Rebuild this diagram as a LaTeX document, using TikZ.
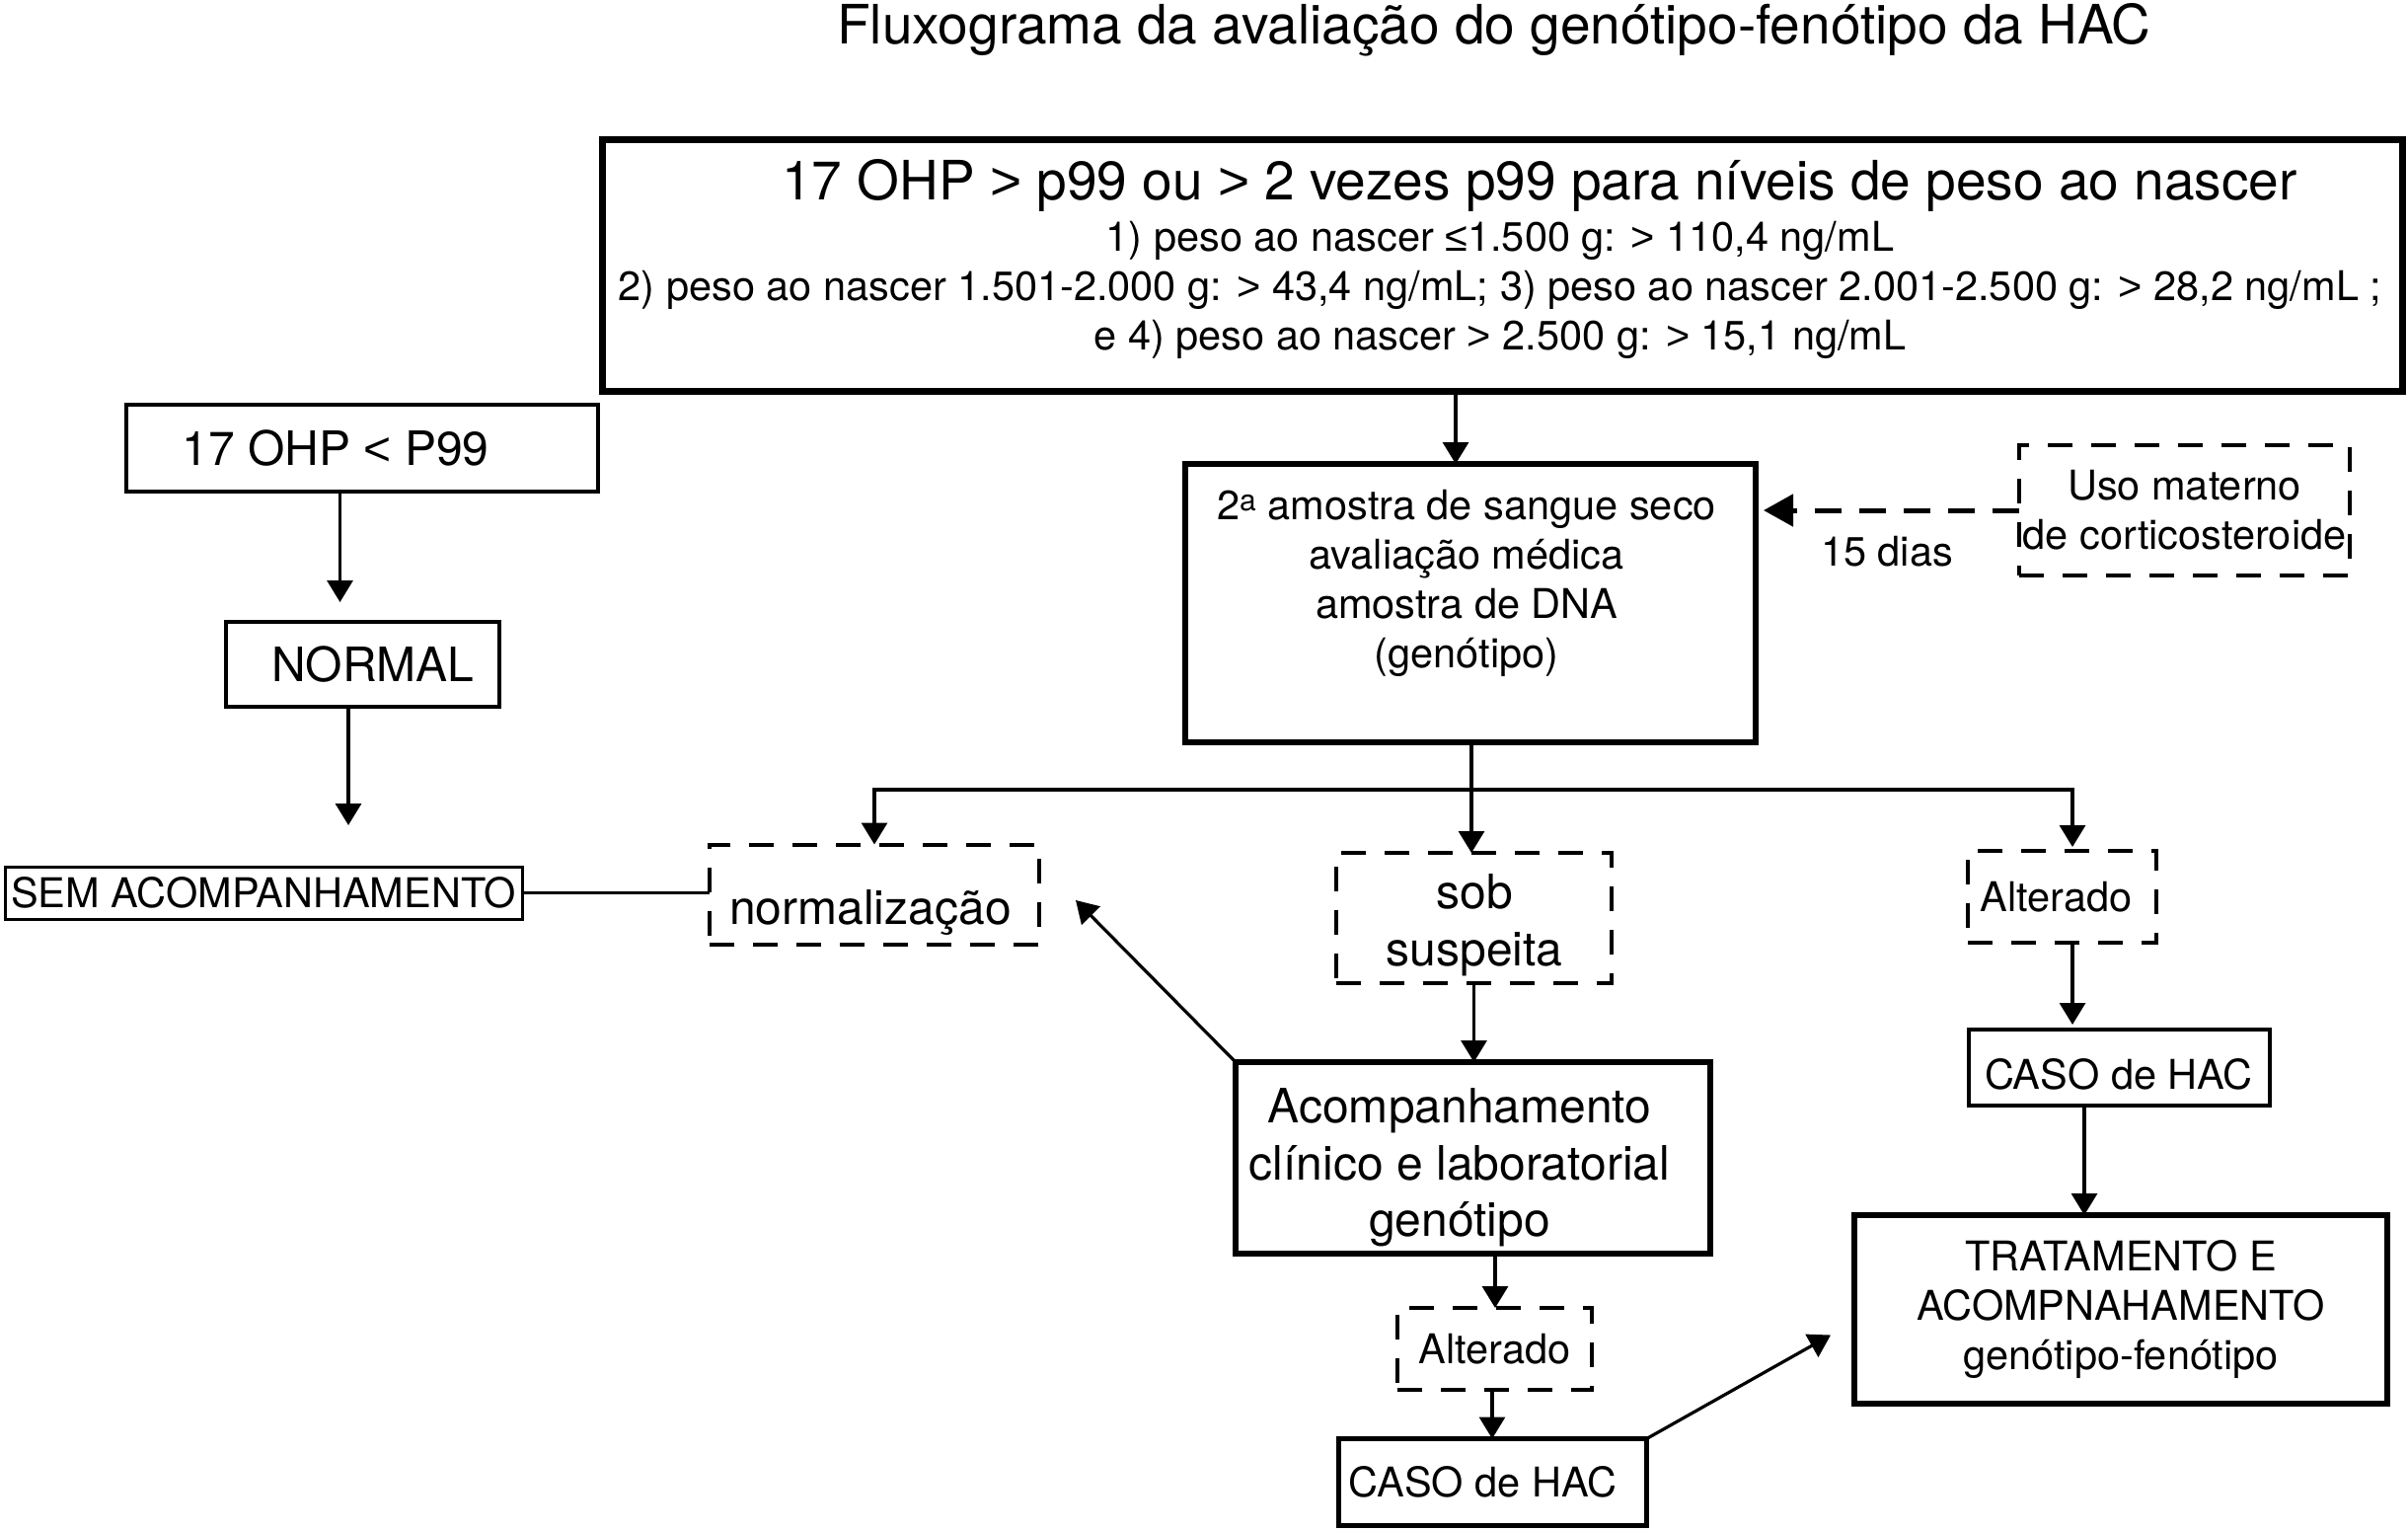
\documentclass[tikz,border=0pt]{standalone}
\usepackage{fontspec}
\setmainfont{TeX Gyre Heros}
\newfontfamily\symfont{Liberation Sans}
\usetikzlibrary{arrows.meta}
\newcommand\fsbig{\fontsize{55}{60}\selectfont}
\newcommand\fsmid{\fontsize{48}{57.5}\selectfont}
\newcommand\fssmall{\fontsize{41.5}{50}\selectfont}
\newcommand\sgt{{\symfont >}}
\newcommand\slt{{\symfont <}}
\begin{document}
\begin{tikzpicture}[x=1pt,y=-1pt,
  every node/.style={inner sep=0pt, outer sep=0pt},
  box/.style={draw, line width=4pt, align=center},
  tbox/.style={draw, line width=6.5pt, align=center},
  dbox/.style={draw, line width=4pt, dash pattern=on 25pt off 19pt, align=center},
  txt/.style={align=center},
  arr/.style={line width=3.2pt, -{Triangle[length=22pt,width=26pt]}},
  plain/.style={line width=3.2pt},
  darr/.style={line width=5pt, dash pattern=on 27pt off 18pt, -{Triangle[length=30pt,width=32pt]}}]
\useasboundingbox (0,0) rectangle (2440,1550);

% title
\node[anchor=base, font=\fsbig] (title) at (1514,44) {Fluxograma da avaliação do genótipo-fenótipo da HAC};

% top box
\node[tbox, line width=7pt, minimum width=1824pt, minimum height=255pt] (top) at (1522,269) {};
\node[anchor=base, font=\fsbig] (topA) at (1560,202) {17 OHP \sgt{} p99 ou \sgt{} 2 vezes p99 para níveis de peso ao nascer};
\node[txt, anchor=north, font=\fssmall] (topB) at (1520,224) {1) peso ao nascer {\symfont ≤}1.500 g: \sgt{} 110,4 ng/mL\\
2) peso ao nascer 1.501-2.000 g: \sgt{} 43,4 ng/mL; 3) peso ao nascer 2.001-2.500 g: \sgt{} 28,2 ng/mL ;\\
e 4) peso ao nascer \sgt{} 2.500 g: \sgt{} 15,1 ng/mL};

% left column
\node[box, font=\fsmid, minimum width=478pt, minimum height=88pt] (lt) at (367,454) {17 OHP \slt{} P99\hspace*{54pt}};
\node[box, font=\fsmid, minimum width=277pt, minimum height=86pt] (normal) at (367.5,673) {\hspace*{21pt}NORMAL};
\node[box, line width=3pt, font=\fssmall, minimum width=524pt, minimum height=53pt] (sem) at (267,904.5) {SEM ACOMPANHAMENTO};

% second sample
\node[tbox, minimum width=578pt, minimum height=282pt] (amostra) at (1490,611) {};
\node[txt, anchor=north, font=\fssmall] (amostraT) at (1486,496) {2\textsuperscript{\fontsize{30}{30}\selectfont a} amostra de sangue seco\\avaliação médica\\amostra de DNA\\(genótipo)};

\node[dbox, font=\fssmall, minimum width=335pt, minimum height=132pt] (uso) at (2213.5,517) {Uso materno\\de corticosteroide};
\node[anchor=base, font=\fssmall] (dias) at (1912,573) {15 dias};

% outcomes
\node[dbox, minimum width=334pt, minimum height=101pt] (norm) at (886,906) {};
\node[anchor=base, font=\fsmid] (normT) at (882,936) {normalização};

\node[dbox, minimum width=279pt, minimum height=132pt] (sob) at (1493.5,930) {};
\node[txt, anchor=north, font=\fsmid] (sobT) at (1494,885.5) {sob\\suspeita};

\node[dbox, font=\fssmall, minimum width=191pt, minimum height=93pt] (alt) at (2089.5,908.5) {Alterado\hspace*{12pt}};

\node[box, minimum width=305pt, minimum height=77pt] (casoR) at (2147.5,1081.5) {};
\node[anchor=base, font=\fssmall] (casoRT) at (2147,1103) {CASO de HAC};

\node[tbox, font=\fssmall, minimum width=540pt, minimum height=191pt] (trat) at (2149,1326.5) {TRATAMENTO E\\ACOMPNAHAMENTO\\genótipo-fenótipo};

\node[tbox, minimum width=481pt, minimum height=194pt] (acomp) at (1492.5,1173) {};
\node[txt, anchor=north, font=\fsmid] (acompT) at (1479,1102.5) {Acompanhamento\\clínico e laboratorial\\genótipo};

\node[dbox, font=\fssmall, minimum width=197pt, minimum height=83pt] (altB) at (1514.5,1366.5) {Alterado};

\node[box, line width=5pt, font=\fssmall, minimum width=312pt, minimum height=88pt] (casoB) at (1512.5,1501.5) {CASO de HAC\hspace*{20pt}};

% connectors
\draw[arr] ([xshift=-47pt]top.south) -- ([xshift=-47pt]top.south |- amostra.north);
\draw[arr, shorten >=20pt] ([xshift=-22.5pt]lt.south) -- ([xshift=-22.5pt]lt.south |- normal.north);
\draw[arr, shorten >=42pt] ([xshift=-14.5pt]normal.south) -- ([xshift=-14.5pt]normal.south |- sem.north);
\draw[plain] (sem.east) -- (sem.east -| norm.west);

\coordinate (br) at (1491,800);
\draw[plain] (amostra.south -| br) -- (br);
\draw[arr] (br) -| (norm.north);
\draw[arr] (br) -- (br |- sob.north);
\draw[arr, shorten >=4pt] (br) -| ([xshift=10.5pt]alt.north);

\draw[darr, shorten >=8pt] (uso.west) -- (uso.west -| amostra.east);

\draw[arr] (sob.south) -- (sob.south |- acomp.north);
\draw[arr, shorten >=5pt] ([xshift=10.5pt]alt.south) -- ([xshift=10.5pt]alt.south |- casoR.north);
\draw[arr] ([xshift=-35.5pt]casoR.south) -- ([xshift=-35.5pt]casoR.south |- trat.north);
\draw[arr] (acomp.north west) -- ([xshift=37pt,yshift=-6pt]norm.east);
\draw[arr] ([xshift=22.5pt]acomp.south) -- ([xshift=22.5pt]acomp.south |- altB.north);
\draw[arr] ([xshift=-2.5pt]altB.south) -- ([xshift=-2.5pt]altB.south |- casoB.north);
\draw[arr] (casoB.north east) -- ([xshift=-24pt,yshift=-26pt]trat.west);
\end{tikzpicture}
\end{document}
